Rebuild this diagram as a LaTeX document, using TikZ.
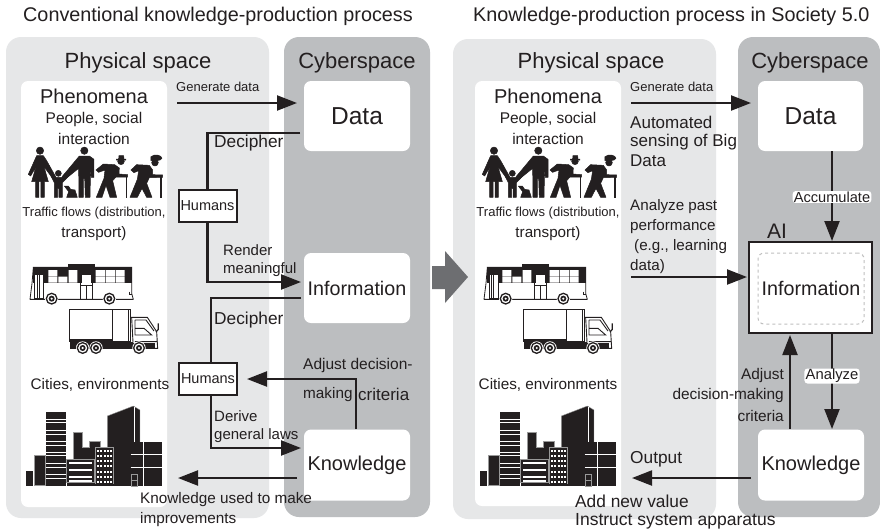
\documentclass[tikz,border=0pt]{standalone}
\usepackage{fontspec}
\setmainfont{Liberation Sans}
\usetikzlibrary{arrows.meta}
\definecolor{ink}{HTML}{231F20}
\definecolor{phys}{HTML}{E6E7E8}
\definecolor{cyber}{HTML}{BCBEC0}
\definecolor{bigarrow}{HTML}{6D6E71}
\newcommand{\sz}[1]{\fontsize{#1}{#1}\selectfont}
\newcommand{\peopleicon}{%
 \filldraw (60,32) circle (11);
 \filldraw (50,47)--(70,47)--(80,62)--(108,112)--(100,118)--(72,80)--(85,125)--(73,125)--(73,172)--(63,172)--(63,125)--(57,125)--(57,172)--(47,172)--(47,125)--(35,125)--(48,80)--(32,108)--(25,103)--cycle;
 \filldraw (115,100) circle (9);
 \filldraw (105,112)--(125,112)--(160,78)--(168,86)--(127,128)--(127,172)--(117,172)--(117,146)--(113,146)--(113,172)--(103,172)--(103,128)--(93,108)--(99,104)--cycle;
 \filldraw (193,32) circle (11);
 \filldraw (178,48)--(208,48)--(222,58)--(222,112)--(214,112)--(212,80)--(210,172)--(196,172)--(194,115)--(190,115)--(190,172)--(177,172)--(176,85)--(135,118)--(128,108)--cycle;
 \filldraw (133,138)--(145,138)--(152,148)--(165,150)--(172,172)--(140,172)--(146,155)--cycle;
 \filldraw (303,64) circle (10);
 \filldraw (289,57)--(296,57)--(297,47)--(311,47)--(312,57)--(318,57)--(318,60)--(289,60)--cycle;
 \filldraw (228,90)--(250,72)--(284,74)--(298,84)--(297,102)--(323,104)--(323,111)--(288,111)--(278,122)--(290,172)--(270,172)--(258,136)--(246,172)--(229,172)--(252,115)--(255,90)--(236,97)--cycle;
 \draw[line width=1.1pt] (320,106)--(320,174);
 \filldraw (405,68) circle (10);
 \filldraw (393,50) .. controls (405,40) and (425,46) .. (426,55) .. controls (420,65) and (405,60) .. (393,62)--cycle;
 \filldraw (333,90)--(350,74)--(388,76)--(398,90)--(398,104)--(428,105)--(428,112)--(388,113)--(380,130)--(396,172)--(380,172)--(366,145)--(352,172)--(330,172)--(352,118)--(356,92)--(342,98)--cycle;
 \draw[line width=1.1pt] (423,108)--(423,174);
}
\newcommand{\wheelicon}[2]{%
 \fill[white] (#1,#2) circle (20);
 \draw[line width=1.3pt] (#1,#2) circle (16);
 \fill (#1,#2) circle (9);
 \fill[white] (#1,#2) circle (3.5);
}
\newcommand{\vehicleicon}{%
 \draw[line width=.8pt,fill=white] (30,118)--(36,70)--(40,22)--(335,22)--(335,100)--(340,118)--cycle;
 \fill (145,13)--(225,13)--(225,22)--(145,22)--cycle;
 \fill (40,20) rectangle (335,30);
 \fill (38,30) rectangle (335,70);
 \fill[white] (85,30) rectangle (112,48) (85,50) rectangle (112,68) (115,50) rectangle (142,68) (146,30) rectangle (172,68) (227,30) rectangle (255,48) (227,50) rectangle (255,68) (257,30) rectangle (285,48) (257,50) rectangle (285,68) (287,30) rectangle (314,48) (287,50) rectangle (314,68);
 \fill[white] (187,45) rectangle (213,73);
 \draw[line width=.8pt] (182,35)--(182,118) (216,35)--(216,118) (182,75)--(216,75) (199,75)--(199,118);
 \fill[white] (45,42) rectangle (72,116);
 \draw[line width=1pt] (45,42) rectangle (72,116) (58,42)--(58,116) (52,42)--(52,116);
 \draw[line width=.8pt] (328,95)--(328,104)--(335,104);
 \draw[line width=.8pt] (30,118)--(340,118);
 \wheelicon{95}{116}
 \wheelicon{268}{116}
 \draw[line width=.8pt,fill=white] (147,147) rectangle (330,245);
 \draw[line width=.8pt] (278,150)--(278,245) (325,150)--(325,245);
 \fill (150,238) rectangle (275,245);
 \fill (150,247) rectangle (410,266);
 \draw[line width=.9pt,fill=white] (335,172)--(382,172)--(410,215)--(413,265)--(340,265)--cycle;
 \draw[line width=.9pt] (345,180)--(378,180)--(402,213) (345,180)--(345,225)--(395,225)--(372,205)--(345,205) (345,245)--(412,245);
 \fill (340,248) rectangle (405,266);
 \draw[line width=1.2pt] (415,190)--(415,208)--(408,216);
 \wheelicon{188}{264}
 \wheelicon{228}{264}
 \wheelicon{357}{264}
}
\newcommand{\cityicon}{%
 \fill (18,213) rectangle (40,258);
 \filldraw[draw=white!60!black,line width=.4pt] (42,167) rectangle (76,256);
 \fill (78,36) rectangle (138,258);
 \foreach \yy in {57,68,92,103,125,135,157,167,190,203,222,235}{\draw[white,line width=.7pt] (78,\yy)--(138,\yy);}
 \filldraw[draw=white!60!black,line width=.4pt] (160,98)--(187,98)--(187,142)--(208,142)--(208,125)--(242,125)--(242,180)--(160,180)--cycle;
 \fill (140,178) rectangle (224,258);
 \draw[white!60!black,line width=.5pt] (140,178) rectangle (224,248);
 \foreach \yy in {185,207,228,240}{\fill[white] (147,\yy) rectangle (215,\yy+6);}
 \filldraw[draw=white!60!black,line width=.4pt] (262,48)--(340,18)--(360,30)--(360,130)--(335,130)--(335,208)--(262,208)--cycle;
 \draw[white,line width=.7pt] (342,20)--(342,125);
 \fill (280,208) rectangle (335,258);
 \fill (225,142) rectangle (281,252);
 \draw[white!60!black,line width=.5pt] (225,142) rectangle (281,252);
 \foreach \yy in {150,165,180,196,212,228,243}{\foreach \xx in {231,241,251,261,271}{\fill[white] (\xx,\yy) rectangle (\xx+6,\yy+6);}}
 \fill (225,252) rectangle (281,258);
 \fill (332,126) rectangle (426,258);
 \draw[white,line width=.8pt] (370,126)--(370,258) (332,163)--(426,163) (332,203)--(426,203);
 \draw[white!60!black,line width=.5pt] (335,222) rectangle (351,258) (335,240)--(351,240);
}
\tikzset{
 lab/.style={inner sep=0pt,anchor=west,text=ink},
 clab/.style={inner sep=0pt,anchor=center,text=ink},
 rlab/.style={inner sep=0pt,anchor=east,text=ink},
 halo/.style={clab,fill=white,rounded corners=3pt,inner xsep=1.2pt,inner ysep=0.6pt},
 panelP/.style={fill=phys,rounded corners=15pt},
 panelC/.style={fill=cyber,rounded corners=15pt},
 boxw/.style={fill=white,rounded corners=7pt,inner sep=0pt,text=ink},
 humanbox/.style={draw=ink,line width=2pt,fill=white,minimum width=58pt,minimum height=32pt,inner sep=0pt,text=ink,font=\sz{14.5}},
 conn/.style={draw=ink,line width=2.2pt},
 arr/.style={conn,-{Triangle[length=20pt,width=15pt]}},
 icon/.style={ink,x=.3333pt,y=-.3333pt},
 heavy/.style={line width=.5pt,line join=round},
}
\begin{document}
\begin{tikzpicture}[x=1pt,y=-1pt]
\useasboundingbox (0,0) rectangle (880,531);
\fill[white] (0,0) rectangle (880,531);
% panels
\fill[panelP] (6,37) rectangle (269,518);
\fill[panelC] (284,37) rectangle (430,517);
\fill[panelP] (453,39) rectangle (716,519);
\fill[panelC] (738,37) rectangle (880,517);
\fill[white,rounded corners=7pt] (21,81) rectangle (167,507);
\fill[white,rounded corners=7pt] (475,81) rectangle (621,506);
\fill[bigarrow] (432,266)--(445,266)--(445,251)--(468,277)--(445,303)--(445,289)--(432,289)--cycle;
% icons
\begin{scope}[shift={(20,140)},icon,heavy]\peopleicon\end{scope}
\begin{scope}[shift={(474,140)},icon,heavy]\peopleicon\end{scope}
\begin{scope}[shift={(20,260)},icon]\vehicleicon\end{scope}
\begin{scope}[shift={(474,260)},icon]\vehicleicon\end{scope}
\begin{scope}[shift={(20,400)},icon]\cityicon\end{scope}
\begin{scope}[shift={(474,400)},icon]\cityicon\end{scope}
% titles
\node[lab,font=\sz{19.8}] (t1) at (23,16) {Conventional knowledge-production process};
\node[lab,font=\sz{19.8}] (t2) at (473,16) {Knowledge-production process in Society 5.0};
\node[clab,font=\sz{22}] (p1) at (138,63) {Physical space};
\node[clab,font=\sz{22}] (c1) at (357,63) {Cyberspace};
\node[clab,font=\sz{22}] (p2) at (591,63) {Physical space};
\node[clab,font=\sz{22}] (c2) at (810,63) {Cyberspace};
% phenomena columns
\foreach \nm/\cx in {a/94,b/548}{
 \node[clab,font=\sz{20}] (phen\nm) at (\cx,96) {Phenomena};
 \node[clab,font=\sz{15.5}] (soc\nm) at (\cx,119) {People, social};
 \node[clab,font=\sz{15.5}] (int\nm) at (\cx,139) {interaction};
 \node[clab,font=\sz{13}] (tra\nm) at (\cx,213) {Traffic flows (distribution,};
 \node[clab,font=\sz{15.2}] (trn\nm) at (\cx,234) {transport)};
}
\node[clab,font=\sz{15.3}] (cit1) at (100,385) {Cities, environments};
\node[clab,font=\sz{15.3}] (cit2) at (548,385) {Cities, environments};
% left boxes
\node[boxw,minimum width=106pt,minimum height=70pt,font=\sz{24.5}] (dataL) at (357,116) {Data};
\node[boxw,minimum width=106pt,minimum height=70pt,font=\sz{19.7}] (infoL) at (357,288) {Information};
\node[boxw,minimum width=106pt,minimum height=71pt,font=\sz{20}] (knowL) at (357,465) {Knowledge};
\node[humanbox] (h1) at (207.5,205.5) {Humans};
\node[humanbox] (h2) at (208,379) {Humans};
% right boxes
\node[boxw,minimum width=105pt,minimum height=70pt,font=\sz{24.5}] (dataR) at (810.5,116) {Data};
\node[boxw,minimum width=106pt,minimum height=71pt,font=\sz{20}] (knowR) at (811,465) {Knowledge};
\node[draw=ink,line width=2.4pt,fill=white,minimum width=123pt,minimum height=91pt,inner sep=0pt] (ai) at (810.5,287.5) {};
\node[draw=white!75!black,dashed,line width=1pt,rounded corners=6pt,minimum width=106pt,minimum height=71pt,inner sep=0pt,text=ink,font=\sz{19.7}] (infoR) at (811,288.5) {Information};
% free ends
\coordinate (g1s) at (177,103); \coordinate (g1e) at (297,103);
\coordinate (d1s) at (300,133);
\coordinate (r1e) at (301,282);
\coordinate (d2s) at (301,298);
\coordinate (dl2e) at (301,448);
\coordinate (adjs) at (356,429); \coordinate (adje) at (247,379);
\coordinate (kus) at (297,478); \coordinate (kue) at (178,478);
\coordinate (g2s) at (631,103); \coordinate (g2e) at (751,103);
\coordinate (a2s) at (631,277); \coordinate (a2e) at (747,277);
\coordinate (accs) at (832,151); \coordinate (acce) at (832,241);
\coordinate (ans) at (832,334); \coordinate (ane) at (832,429);
\coordinate (ads) at (790,429); \coordinate (ade) at (790,335);
\coordinate (outs) at (751,478); \coordinate (oute) at (632,478);
% left connectors
\draw[arr] (g1s)--(g1e);
\draw[conn] (d1s)-|(h1.north);
\draw[arr] (h1.south)|-(r1e);
\draw[conn] (d2s)-|([xshift=3pt]h2.north);
\draw[arr] ([xshift=3pt]h2.south)|-(dl2e);
\draw[arr] (adjs)|-(adje);
\draw[arr] (kus)--(kue);
% right connectors
\draw[arr] (g2s)--(g2e);
\draw[arr] (a2s)--(a2e);
\draw[arr] (accs)--(acce);
\draw[arr] (ans)--(ane);
\draw[arr] (ads)--(ade);
\draw[arr] (outs)--(oute);
% left labels
\node[lab,font=\sz{13}] (lg1) at (176,87) {Generate data};
\node[lab,font=\sz{17.3}] (ld1) at (214,143) {Decipher};
\node[lab,font=\sz{15}] (lr1) at (223,250) {Render};
\node[lab,font=\sz{15}] (lr2) at (223,270) {meaningful};
\node[lab,font=\sz{17.3}] (ld2) at (214,320) {Decipher};
\node[lab,font=\sz{15.5}] (la1) at (303,365) {Adjust decision-};
\node[lab,font=\sz{15.3}] (la2) at (303,395) {making};
\node[lab,font=\sz{17}] (la3) at (358,394) {criteria};
\node[lab,font=\sz{15}] (ldr1) at (214,416) {Derive};
\node[lab,font=\sz{15}] (ldr2) at (214,436) {general laws};
\node[lab,font=\sz{15.3}] (lk1) at (140,500) {Knowledge used to make};
\node[lab,font=\sz{15.3}] (lk2) at (140,520) {improvements};
% right labels
\node[lab,font=\sz{13}] (rg) at (630,87) {Generate data};
\node[lab,font=\sz{17}] (ra1) at (630,122) {Automated};
\node[lab,font=\sz{17}] (ra2) at (630,142) {sensing of Big};
\node[lab,font=\sz{17}] (ra3) at (630,161) {Data};
\node[lab,font=\sz{15.2}] (rp1) at (630,207) {Analyze past};
\node[lab,font=\sz{15.2}] (rp2) at (630,227) {performance};
\node[lab,font=\sz{15.2}] (rp3) at (634,247) {(e.g., learning};
\node[lab,font=\sz{15.2}] (rp4) at (630,267) {data)};
\node[lab,font=\sz{21}] (rai) at (767,231) {AI};
\node[halo,font=\sz{14.6}] (racc) at (832,197) {Accumulate};
\node[halo,font=\sz{14.8}] (ranl) at (832,376) {Analyze};
\node[rlab,font=\sz{15.4}] (rj1) at (784,376) {Adjust};
\node[rlab,font=\sz{15.4}] (rj2) at (784,396) {decision-making};
\node[rlab,font=\sz{15.4}] (rj3) at (784,416) {criteria};
\node[lab,font=\sz{17.3}] (rout) at (630,459) {Output};
\node[lab,font=\sz{17.3}] (rn1) at (575,501) {Add new value};
\node[lab,font=\sz{17.5}] (rn2) at (575,521) {Instruct system apparatus};
\end{tikzpicture}
\end{document}
